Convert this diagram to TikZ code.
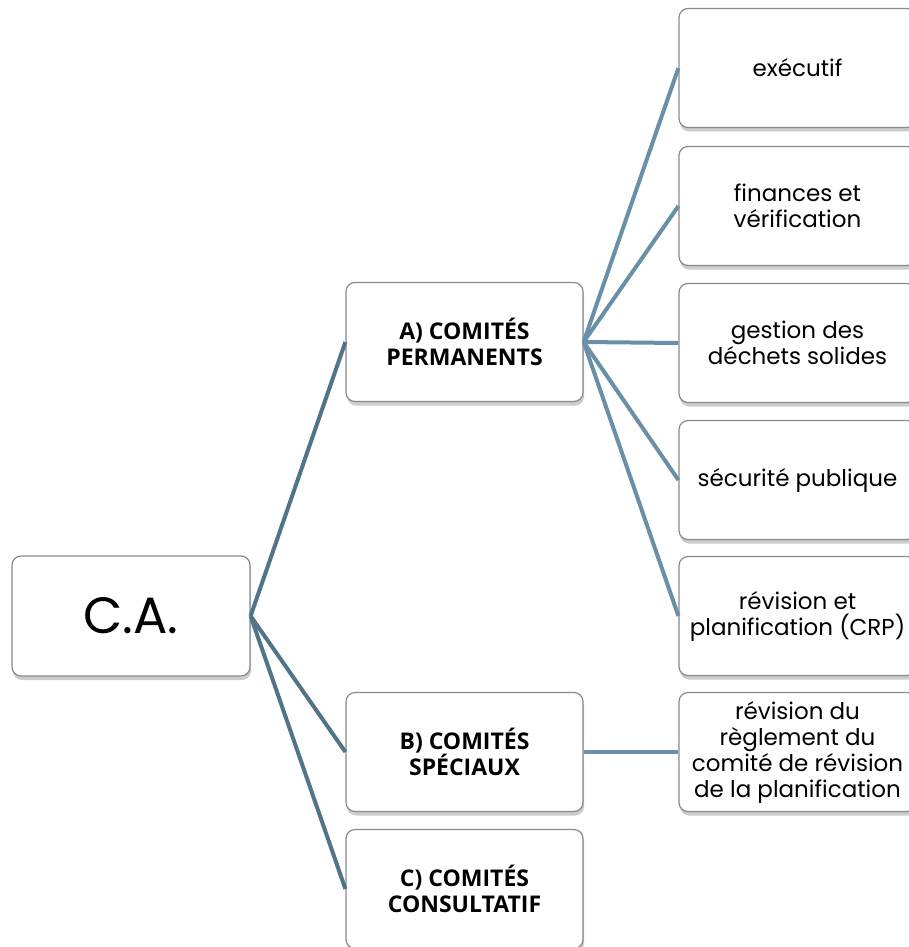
\documentclass[tikz,border=0pt]{standalone}
\usepackage{fontspec}
\setmainfont{Poppins}
\newfontfamily\boldfam{Open Sans}
\usetikzlibrary{shadows}
\definecolor{linedark}{HTML}{527489}
\definecolor{linelight}{HTML}{6A8FA8}
\definecolor{boxborder}{HTML}{8A8A8A}
\tikzset{
  box/.style={draw=boxborder, line width=1.2pt, fill=white, rounded corners=9pt,
    minimum width=237pt, minimum height=119pt, align=center, inner sep=1pt,
    drop shadow={shadow xshift=1pt, shadow yshift=-4pt, opacity=0.2, fill=black}},
  cabox/.style={box, minimum width=238pt, minimum height=120pt, font=\fontsize{51}{56}\selectfont},
  midbox/.style={box, font=\boldfam\bfseries\fontsize{23}{26}\selectfont},
  leafbox/.style={box, font=\fontsize{23}{26}\selectfont},
  conn/.style={line width=4pt},
}
\begin{document}
\begin{tikzpicture}[x=1pt,y=-1pt]
\useasboundingbox (0,0) rectangle (908,947);
\node[cabox] (ca) at (131,616) {C.A.};
\node[midbox] (a) at (464.5,342) {A) COMITÉS\\PERMANENTS};
\node[midbox] (b) at (464.5,752) {B) COMITÉS\\SPÉCIAUX};
\node[midbox] (c) at (464.5,889) {C) COMITÉS\\CONSULTATIF};
\node[leafbox] (a1) at (797.5,68) {exécutif};
\node[leafbox] (a2) at (797.5,206) {finances et\\vérification};
\node[leafbox] (a3) at (797.5,343) {gestion des\\déchets solides};
\node[leafbox] (a4) at (797.5,480) {sécurité publique};
\node[leafbox] (a5) at (797.5,616) {révision et\\planification (CRP)};
\node[leafbox] (b1) at (797.5,752) {révision du\\règlement du\\comité de révision\\de la planification};
\draw[conn, linedark] (ca.east) -- (a.west);
\draw[conn, linedark] (ca.east) -- (b.west);
\draw[conn, linedark] (ca.east) -- (c.west);
\foreach \t in {a1,a2,a3,a4,a5}{\draw[conn, linelight] (a.east) -- (\t.west);}
\draw[conn, linelight] (b.east) -- (b1.west);
\end{tikzpicture}
\end{document}
